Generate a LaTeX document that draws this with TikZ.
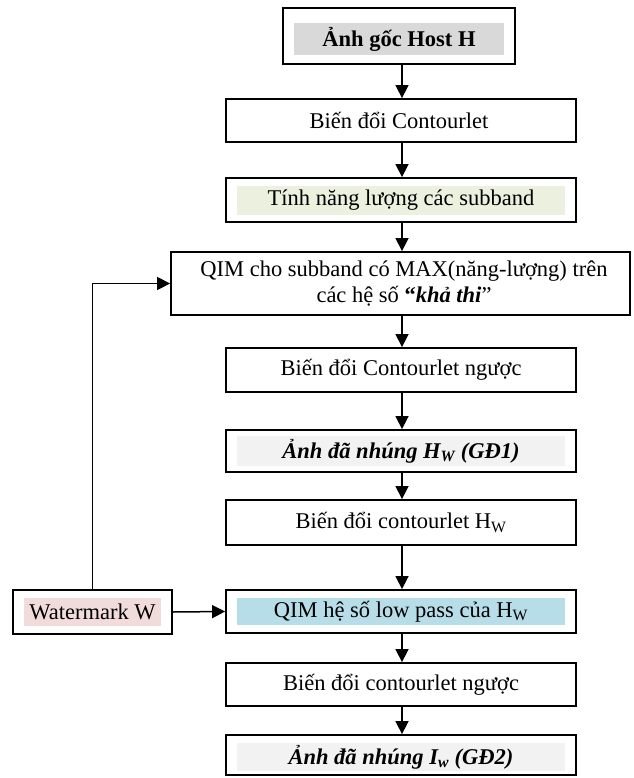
\documentclass[tikz,border=0pt]{standalone}
\usepackage{fontspec}
\setmainfont{Liberation Serif}
\usetikzlibrary{arrows.meta}

\tikzset{
  box/.style={draw, line width=1.8pt, inner sep=0pt, minimum width=350},
  lbl/.style={inner sep=0pt, align=center, font=\fontsize{22.5}{25.5}\selectfont},
  shade/.style={lbl, minimum width=328, minimum height=29},
  arr/.style={line width=1.5pt, -{Triangle[length=13pt,width=13pt]}},
}

\begin{document}
\begin{tikzpicture}[x=1pt, y=-1pt]
  \useasboundingbox (0,0) rectangle (633,778);

  % truc mui ten chinh
  \coordinate (axis) at (402,0);

  % cac khoi
  \node[box, minimum width=232, minimum height=56] (host) at (399,36) {};
  \node[shade, fill=black!15, minimum width=210, minimum height=32] (host-t) at (399,39) {\textbf{Ảnh gốc Host H}};

  \node[box, minimum height=43] (ct) at (401,120.5) {};
  \node[lbl] (ct-t) at (399,120.5) {Biến đổi Contourlet};

  \node[box, minimum height=44] (energy) at (401,200) {};
  \node[shade, fill={rgb,255:red,235;green,241;blue,222}] (energy-t) at (401,200.5) {Tính năng lượng các subband};

  \node[box, minimum width=459, minimum height=63] (qim1) at (400.5,283.5) {};
  \node[lbl] (qim1-t) at (404,283.5) {QIM cho subband có MAX(năng-lượng) trên\\các hệ số \textbf{“\textit{khả thi}}”};

  \node[box, minimum height=44] (ict) at (401,370) {};
  \node[lbl] (ict-t) at (ict) {Biến đổi Contourlet ngược};

  \node[box, minimum height=42] (hw) at (401,451) {};
  \node[shade, fill=black!5, minimum height=30] (hw-t) at (401,451) {\textbf{\textit{Ảnh đã nhúng H\textsubscript{W} (GĐ1)}}};

  \node[box, minimum height=45] (cthw) at (401,522.5) {};
  \node[lbl] (cthw-t) at (cthw) {Biến đổi contourlet H\textsubscript{W}};

  \node[box, minimum height=43] (qim2) at (401,611.5) {};
  \node[shade, fill={rgb,255:red,183;green,221;blue,232}, minimum height=27] (qim2-t) at (401,611.5) {QIM hệ số low pass của H\textsubscript{W}};

  \node[box, minimum width=159, minimum height=44] (wm) at (92.5,612) {};
  \node[shade, fill={rgb,255:red,242;green,220;blue,219}, minimum width=137, minimum height=28] (wm-t) at (92.5,612) {Watermark W};

  \node[box, minimum height=43] (ict2) at (401,684.5) {};
  \node[lbl] (ict2-t) at (ict2) {Biến đổi contourlet ngược};

  \node[box, minimum height=40] (iw) at (401,755) {};
  \node[shade, fill=black!5, minimum height=28] (iw-t) at (401,757) {\textbf{\textit{Ảnh đã nhúng I\textsubscript{w} (GĐ2)}}};

  % cac mui ten
  \draw[arr] (host.south -| axis) -- (ct.north -| axis);
  \draw[arr] (ct.south -| axis) -- (energy.north -| axis);
  \draw[arr] (energy.south -| axis) -- (qim1.north -| axis);
  \draw[arr] (qim1.south -| axis) -- (ict.north -| axis);
  \draw[arr] (ict.south -| axis) -- (hw.north -| axis);
  \draw[arr] (hw.south -| axis) -- (cthw.north -| axis);
  \draw[arr] (cthw.south -| axis) -- (qim2.north -| axis);
  \draw[arr] (qim2.south -| axis) -- (ict2.north -| axis);
  \draw[arr] (ict2.south -| axis) -- (iw.north -| axis);

  % watermark
  \draw[arr] (wm.north) |- (qim1.west);
  \draw[arr] (wm.east) -- (qim2.west);
\end{tikzpicture}
\end{document}
